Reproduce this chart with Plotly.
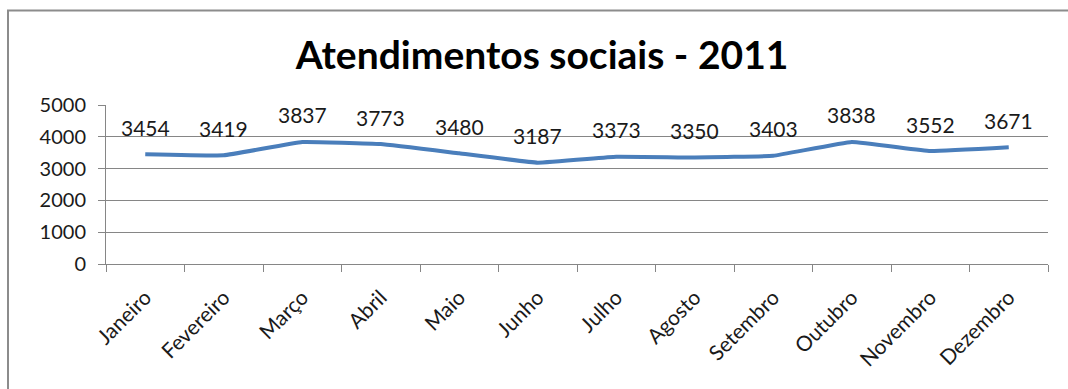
import plotly.graph_objects as go

months = ["Janeiro", "Fevereiro", "Março", "Abril", "Maio", "Junho", "Julho",
          "Agosto", "Setembro", "Outubro", "Novembro", "Dezembro"]
values = [3454, 3419, 3837, 3773, 3480, 3187, 3373, 3350, 3403, 3838, 3552, 3671]
y_ticks = [0, 1000, 2000, 3000, 4000, 5000]

FONT = "Lato, Carlito, Calibri, sans-serif"
GRID = "#868686"

fig = go.Figure()
fig.add_trace(go.Scatter(
    x=months, y=values, mode="lines",
    line=dict(color="#4A7EBB", width=4, shape="spline", smoothing=0.25),
    hoverinfo="x+y",
))

annotations = [
    dict(x=m, y=v, text=str(v), showarrow=False, yshift=27,
         font=dict(family=FONT, size=21, color="#1a1a1a"))
    for m, v in zip(months, values)
]

fig.update_layout(
    width=1068, height=389,
    margin=dict(l=106, r=20, t=105, b=125),
    paper_bgcolor="white", plot_bgcolor="white",
    showlegend=False,
    title=dict(text="<b>Atendimentos sociais - 2011</b>", x=0.5075, xanchor="center",
               y=0.858, yanchor="middle",
               font=dict(family=FONT, size=39, color="black")),
    annotations=annotations,
    shapes=[dict(type="rect", xref="paper", yref="paper",
                 x0=(8 - 106) / 942, x1=1.2, y0=-1.2, y1=(264 - 10.5) / 159,
                 line=dict(color="#8c8c8c", width=2), fillcolor="rgba(0,0,0,0)",
                 layer="below")],
    font=dict(family=FONT, size=19, color="#1a1a1a"),
)

fig.update_xaxes(
    type="category", tickson="boundaries", ticks="outside", ticklen=7,
    tickcolor=GRID, showline=True, linecolor=GRID, linewidth=1,
    showgrid=False, tickangle=-45, range=[-0.5, 11.5],
    tickfont=dict(family=FONT, size=21, color="#1a1a1a"),
    ticklabelstandoff=12,
)
fig.update_yaxes(
    range=[0, 5000], tickvals=y_ticks, ticks="outside", ticklen=7,
    tickcolor=GRID, showline=True, linecolor=GRID, linewidth=1,
    showgrid=True, gridcolor=GRID, gridwidth=1, zeroline=False,
    tickfont=dict(family=FONT, size=20, color="#1a1a1a"),
    ticklabelstandoff=8,
)

fig.write_html("out.html")
